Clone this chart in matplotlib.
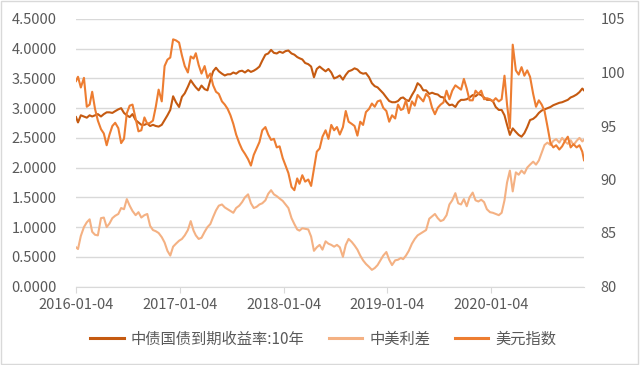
import matplotlib.pyplot as plt
import matplotlib.dates as mdates
import matplotlib.ticker as mticker
import pandas as pd
from matplotlib.patches import Rectangle

plt.rcParams['font.family'] = ['Noto Sans CJK SC', 'DejaVu Sans']

# sampling grid: 1st / 11th / 21st of each month, 2016-01-04 .. 2020-11-27
dates = [f"{y}-{m:02d}-{d:02d}" for y in range(2016, 2021)
         for m in range(1, 13) for d in (1, 11, 21)]
dates = [d for d in dates if d <= "2020-11-21"]
dates[0] = "2016-01-04"
dates.append("2020-11-27")

# 中债国债到期收益率:10年 (left axis)
yield10y = [
    2.85, 2.76, 2.88, 2.86, 2.84, 2.88, 2.86, 2.88, 2.90, 2.86, 2.90, 2.93,
    2.93, 2.92, 2.95, 2.98, 3.00, 2.92, 2.88, 2.85, 2.90, 2.80, 2.76, 2.72,
    2.72, 2.74, 2.70, 2.72, 2.70, 2.69, 2.72, 2.80, 2.88, 2.97, 3.20, 3.10,
    3.02, 3.19, 3.25, 3.36, 3.47, 3.40, 3.35, 3.30, 3.38, 3.32, 3.30, 3.47,
    3.62, 3.68, 3.62, 3.58, 3.55, 3.57, 3.57, 3.60, 3.58, 3.62, 3.63, 3.60,
    3.64, 3.61, 3.63, 3.66, 3.70, 3.80, 3.90, 3.92, 3.98, 3.93, 3.92, 3.95,
    3.93, 3.96, 3.97, 3.92, 3.90, 3.86, 3.84, 3.82, 3.76, 3.74, 3.70, 3.52,
    3.66, 3.70, 3.66, 3.62, 3.66, 3.60, 3.50, 3.52, 3.55, 3.48, 3.56, 3.62,
    3.64, 3.67, 3.65, 3.60, 3.58, 3.59, 3.52, 3.42, 3.37, 3.35, 3.30, 3.25,
    3.18, 3.12, 3.10, 3.10, 3.12, 3.17, 3.18, 3.14, 3.12, 3.22, 3.30, 3.42,
    3.38, 3.30, 3.30, 3.24, 3.26, 3.24, 3.23, 3.19, 3.18, 3.10, 3.05, 3.06,
    3.02, 3.10, 3.14, 3.14, 3.15, 3.18, 3.22, 3.20, 3.24, 3.22, 3.18, 3.14,
    3.14, 3.12, 3.02, 2.97, 2.97, 2.88, 2.72, 2.55, 2.66, 2.60, 2.55, 2.52,
    2.58, 2.68, 2.80, 2.82, 2.86, 2.92, 2.96, 2.98, 3.00, 3.02, 3.05, 3.07,
    3.09, 3.10, 3.12, 3.14, 3.18, 3.20, 3.23, 3.27, 3.33, 3.30,
]

# 中美利差 (left axis)
spread = [
    0.66, 0.63, 0.85, 1.00, 1.08, 1.13, 0.92, 0.87, 0.86, 1.15, 1.16, 1.00,
    1.06, 1.15, 1.19, 1.22, 1.32, 1.30, 1.47, 1.36, 1.27, 1.20, 1.25, 1.16,
    1.20, 1.22, 1.02, 0.95, 0.93, 0.90, 0.83, 0.74, 0.60, 0.52, 0.67, 0.72,
    0.77, 0.80, 0.86, 0.95, 1.10, 0.94, 0.86, 0.80, 0.82, 0.92, 1.00, 1.05,
    1.17, 1.28, 1.36, 1.38, 1.33, 1.30, 1.27, 1.24, 1.32, 1.36, 1.42, 1.50,
    1.55, 1.40, 1.32, 1.34, 1.38, 1.40, 1.45, 1.56, 1.62, 1.55, 1.52, 1.48,
    1.44, 1.38, 1.32, 1.15, 1.05, 0.96, 0.94, 0.98, 0.97, 0.96, 0.84, 0.60,
    0.66, 0.70, 0.62, 0.76, 0.72, 0.70, 0.67, 0.70, 0.66, 0.50, 0.70, 0.80,
    0.75, 0.69, 0.62, 0.52, 0.44, 0.38, 0.33, 0.28, 0.31, 0.36, 0.44, 0.52,
    0.58, 0.45, 0.36, 0.44, 0.45, 0.48, 0.46, 0.52, 0.60, 0.72, 0.80, 0.86,
    0.89, 0.92, 0.95, 1.14, 1.18, 1.22, 1.15, 1.10, 1.12, 1.20, 1.38, 1.45,
    1.57, 1.40, 1.38, 1.47, 1.35, 1.50, 1.58, 1.45, 1.43, 1.46, 1.42, 1.30,
    1.25, 1.24, 1.22, 1.20, 1.24, 1.45, 1.75, 1.95, 1.60, 1.92, 1.88, 1.95,
    1.90, 2.00, 2.05, 2.10, 2.05, 2.12, 2.25, 2.38, 2.42, 2.38, 2.45, 2.48,
    2.42, 2.50, 2.44, 2.40, 2.46, 2.38, 2.45, 2.50, 2.44, 2.47,
]

# 美元指数 (right axis)
usd = [
    99.2, 99.6, 98.6, 99.5, 96.8, 97.0, 98.2, 96.6, 95.5, 94.7, 94.3, 93.2,
    94.2, 95.0, 95.3, 94.8, 93.4, 93.8, 96.2, 96.9, 97.0, 95.7, 94.5, 94.6,
    95.8, 95.2, 95.3, 95.5, 96.8, 98.4, 97.3, 100.6, 101.2, 101.4, 103.1, 103.0,
    102.8, 101.6, 100.6, 100.0, 101.5, 101.3, 101.8, 100.7, 99.9, 100.6, 99.5, 99.9,
    98.8, 98.2, 98.0, 97.3, 97.0, 96.6, 96.0, 95.2, 94.2, 93.4, 92.8, 92.4,
    91.9, 91.3, 92.3, 92.9, 93.5, 94.6, 94.9, 94.2, 93.7, 93.8, 93.0, 93.1,
    92.0, 91.3, 90.6, 89.3, 89.0, 90.1, 89.6, 90.4, 89.8, 90.0, 89.4, 91.0,
    92.6, 92.9, 94.0, 94.6, 93.8, 95.1, 94.6, 94.9, 94.2, 94.9, 96.4, 95.4,
    95.2, 95.0, 94.1, 95.4, 95.1, 96.3, 96.6, 97.1, 96.8, 97.3, 97.4, 96.7,
    96.4, 95.4, 96.0, 95.7, 97.0, 96.5, 96.6, 97.4, 96.2, 97.3, 96.9, 97.9,
    97.6, 97.3, 98.0, 97.7, 96.7, 96.1, 96.7, 97.0, 97.2, 98.3, 97.5, 98.3,
    98.8, 98.6, 98.4, 99.4, 98.5, 97.4, 97.4, 98.3, 98.0, 98.3, 97.5, 97.6,
    97.5, 97.3, 97.6, 97.3, 97.5, 99.7, 97.0, 94.8, 102.6, 100.2, 99.8, 100.5,
    99.7, 100.2, 99.6, 98.0, 96.8, 97.4, 97.0, 96.4, 95.0, 93.4, 93.0, 93.2,
    92.8, 93.1, 93.6, 94.0, 93.0, 93.3, 93.0, 93.2, 92.6, 91.8,
]

xtick_labels = ["2016-01-04", "2017-01-04", "2018-01-04", "2019-01-04", "2020-01-04"]
names = ["中债国债到期收益率:10年", "中美利差", "美元指数"]

x = pd.to_datetime(dates)
grey = "#595959"

fig = plt.figure(figsize=(6.4, 3.65), dpi=100)
ax = fig.add_axes([76 / 640, 78.5 / 365, 508 / 640, 267.5 / 365])
ax2 = ax.twinx()

l1, = ax.plot(x, yield10y, color="#C55A11", lw=1.5)
l2, = ax.plot(x, spread, color="#F4B183", lw=1.5)
l3, = ax2.plot(x, usd, color="#ED7D31", lw=1.5)

ax.set_ylim(0, 4.5)
ax.yaxis.set_major_locator(mticker.MultipleLocator(0.5))
ax.yaxis.set_major_formatter(mticker.FormatStrFormatter("%.4f"))
ax2.set_ylim(80, 105)
ax2.yaxis.set_major_locator(mticker.MultipleLocator(5))

ax.set_xlim(x[0], x[-1])
ax.set_xticks(pd.to_datetime(xtick_labels))
ax.xaxis.set_major_formatter(mdates.DateFormatter("%Y-%m-%d"))

ax.grid(axis="y", color="#D9D9D9", lw=1)
ax.set_axisbelow(True)
for s in ["top", "left", "right"]:
    ax.spines[s].set_visible(False)
for s in ax2.spines.values():
    s.set_visible(False)
ax.spines["bottom"].set_color("#D9D9D9")

ax.tick_params(axis="x", length=4, color="#D9D9D9", labelsize=10.5, labelcolor=grey, pad=4)
ax.tick_params(axis="y", length=0, labelsize=10.5, labelcolor=grey, pad=14)
ax2.tick_params(axis="y", length=0, labelsize=10.5, labelcolor=grey, pad=12)

leg = fig.legend([l1, l2, l3], names, loc="center", bbox_to_anchor=(0.505, 0.071),
                 ncol=3, frameon=False, fontsize=11, handlelength=2.2,
                 columnspacing=1.6, handletextpad=0.45, labelcolor=grey)
for line in leg.get_lines():
    line.set_linewidth(2.2)

fig.add_artist(Rectangle((0.002, 0.003), 0.995, 0.993, transform=fig.transFigure,
                         fill=False, edgecolor="#D9D9D9", lw=1))

fig.savefig("out.png", dpi=100)
